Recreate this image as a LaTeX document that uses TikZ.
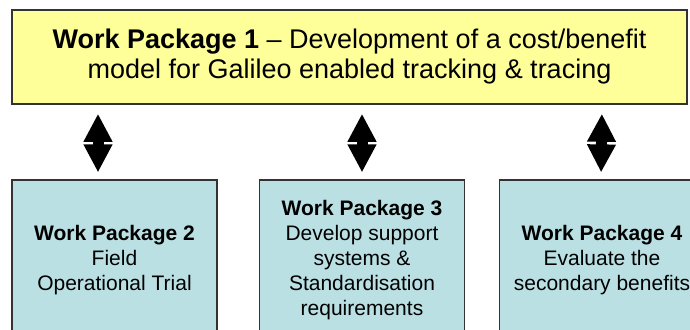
\documentclass[tikz,border=0pt]{standalone}
\usepackage{fontspec}
\setmainfont{Liberation Sans}
\usetikzlibrary{arrows.meta}
\definecolor{wpyellow}{RGB}{255,255,153}
\definecolor{wpblue}{RGB}{186,224,228}
\tikzset{
  mainbox/.style={draw=black!80, line width=1.5pt, fill=wpyellow, align=center, inner sep=0pt,
    minimum width=675pt, minimum height=94pt, font=\fontsize{27}{30}\selectfont},
  subbox/.style={draw=black!80, line width=1.2pt, fill=wpblue, align=center, inner sep=0pt,
    minimum width=205pt, minimum height=160pt, font=\fontsize{21}{25}\selectfont},
  link/.style={line width=11pt, {Triangle[width=27pt,length=28pt]}-{Triangle[width=27pt,length=28pt]},
    shorten <=9pt, shorten >=7pt}
}
\begin{document}
\begin{tikzpicture}[x=1pt,y=1pt]
\useasboundingbox (0,0) rectangle (690,-329);
\clip (0,0) rectangle (690,-329);
\node[mainbox] (wp1) at (349.5,-57) {\textbf{Work Package 1} -- Development of a cost/benefit\\model for Galileo enabled tracking \& tracing};
\node[subbox] (wp2) at (114.5,-260) {\textbf{Work Package 2}\\Field\\Operational Trial};
\node[subbox] (wp3) at (362,-260) {\textbf{Work Package 3}\\Develop support\\systems \&\\Standardisation\\requirements};
\node[subbox] (wp4) at (602,-260) {\textbf{Work Package 4}\\Evaluate the\\secondary benefits};
\coordinate (a2) at ([xshift=-16.5pt]wp2.north);
\draw[link] (a2 |- wp1.south) -- (a2);
\draw[link] (wp1.south -| wp3.north) -- (wp3.north);
\draw[link] (wp1.south -| wp4.north) -- ([xshift=-1pt]wp4.north);
\end{tikzpicture}
\end{document}
